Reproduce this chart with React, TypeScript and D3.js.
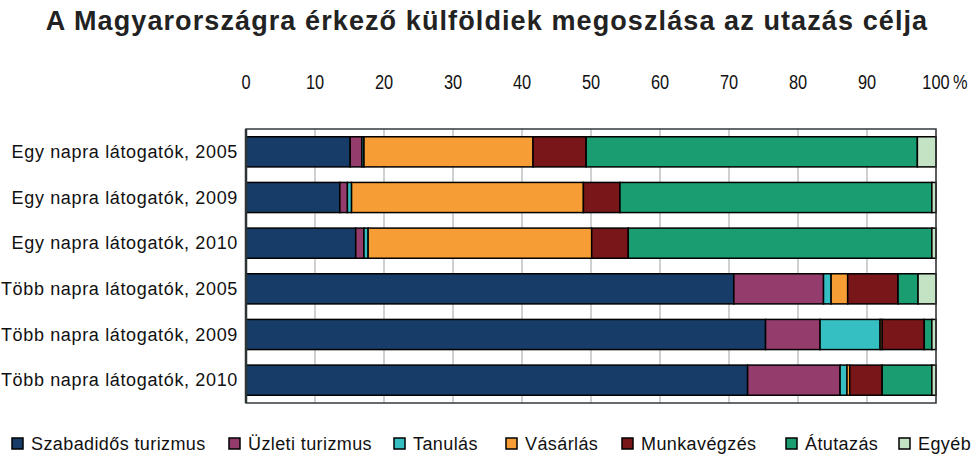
import React from "react";
import * as d3 from "d3";

const title = "A Magyarországra érkező külföldiek megoszlása az utazás célja";
const categories = [
  "Egy napra látogatók, 2005",
  "Egy napra látogatók, 2009",
  "Egy napra látogatók, 2010",
  "Több napra látogatók, 2005",
  "Több napra látogatók, 2009",
  "Több napra látogatók, 2010",
];
const seriesNames = [
  "Szabadidős turizmus",
  "Üzleti turizmus",
  "Tanulás",
  "Vásárlás",
  "Munkavégzés",
  "Átutazás",
  "Egyéb",
];
const colors = ["#173c67", "#943c6c", "#36bfc2", "#f79d35", "#791619", "#1a9d70", "#c4e3c5"];

const szabadidos = [15.1, 13.6, 15.9, 70.7, 75.3, 72.7];
const uzleti = [1.7, 1.1, 1.2, 13.0, 7.9, 13.4];
const tanulas = [0.3, 0.6, 0.6, 1.1, 8.7, 1.0];
const vasarlas = [24.5, 33.6, 32.4, 2.4, 0.3, 0.4];
const munkavegzes = [7.7, 5.3, 5.3, 7.3, 6.1, 4.7];
const atutazas = [48.0, 45.2, 44.0, 2.9, 1.1, 7.2];
const egyeb = [2.7, 0.6, 0.6, 2.6, 0.6, 0.6];

const tickValues = [0, 10, 20, 30, 40, 50, 60, 70, 80, 90, 100];

const seriesValues = [szabadidos, uzleti, tanulas, vasarlas, munkavegzes, atutazas, egyeb];
const legendX = [12, 229, 394, 506, 622, 786, 899];

const W = 973;
const H = 462;
const margin = { left: 246, right: 37, top: 129, bottom: 59 };
const font = "'Liberation Sans', Arial, sans-serif";

export default function App() {
  const x = d3.scaleLinear().domain([0, 100]).range([margin.left, W - margin.right]);
  const y = d3
    .scaleBand<string>()
    .domain(categories)
    .range([margin.top, H - margin.bottom])
    .paddingInner(0.34)
    .paddingOuter(0.17);

  const table = categories.map((c, i) => {
    const row: any = { cat: c };
    seriesNames.forEach((s, j) => (row[s] = seriesValues[j][i]));
    return row;
  });
  const stacked = d3.stack<any>().keys(seriesNames)(table);

  return (
    <div style={{ position: "absolute", left: 0, top: 0 }}>
      <svg width={W} height={H} style={{ display: "block", background: "#fff" }}>
        <text
          x={487}
          y={30}
          textAnchor="middle"
          fontFamily={font}
          fontWeight="bold"
          fontSize={27}
          letterSpacing={1.1}
          fill="#222"
        >
          {title}
        </text>
        {/* grid */}
        {tickValues.map((t) => (
          <line
            key={"g" + t}
            x1={x(t)}
            x2={x(t)}
            y1={margin.top}
            y2={H - margin.bottom}
            stroke="#bfc0c2"
            strokeWidth={1.5}
          />
        ))}
        {/* tick labels */}
        {tickValues.map((t) => (
          <text
            key={"t" + t}
            transform={`translate(${x(t)},89) scale(0.78,1)`}
            textAnchor="middle"
            fontFamily={font}
            fontSize={21}
            fill="#111"
          >
            {t}
          </text>
        ))}
        <text
          transform={`translate(${x(100) + 17},89) scale(0.78,1)`}
          fontFamily={font}
          fontSize={21}
          fill="#111"
        >
          %
        </text>
        {/* bars */}
        {stacked.map((s, j) => (
          <g key={s.key} fill={colors[j]}>
            {s.map((d, i) => (
              <rect
                key={i}
                x={x(d[0])}
                y={y(categories[i])!}
                width={Math.max(0, x(d[1]) - x(d[0]))}
                height={y.bandwidth()}
                stroke="#000"
                strokeWidth={1.5}
              />
            ))}
          </g>
        ))}
        {/* frame */}
        <rect
          x={margin.left}
          y={margin.top}
          width={W - margin.left - margin.right}
          height={H - margin.top - margin.bottom}
          fill="none"
          stroke="#333a3c"
          strokeWidth={1.5}
        />
        <line
          x1={margin.left}
          x2={margin.left}
          y1={margin.top}
          y2={H - margin.bottom}
          stroke="#2d3436"
          strokeWidth={2.5}
        />
        {/* category labels */}
        {categories.map((c) => (
          <text
            key={c}
            x={238}
            y={y(c)! + y.bandwidth() / 2}
            dy="0.35em"
            textAnchor="end"
            fontFamily={font}
            fontSize={18}
            letterSpacing={0.65}
            fill="#111"
          >
            {c}
          </text>
        ))}
        {/* legend */}
        {seriesNames.map((s, j) => (
          <g key={s} transform={`translate(${legendX[j]},444)`}>
            <rect x={0} y={-6} width={11} height={11} fill={colors[j]} stroke="#000" strokeWidth={1.5} />
            <text x={19} y={0} dy="0.35em" fontFamily={font} fontSize={18} letterSpacing={0.4} fill="#111">
              {s}
            </text>
          </g>
        ))}
      </svg>
    </div>
  );
}
